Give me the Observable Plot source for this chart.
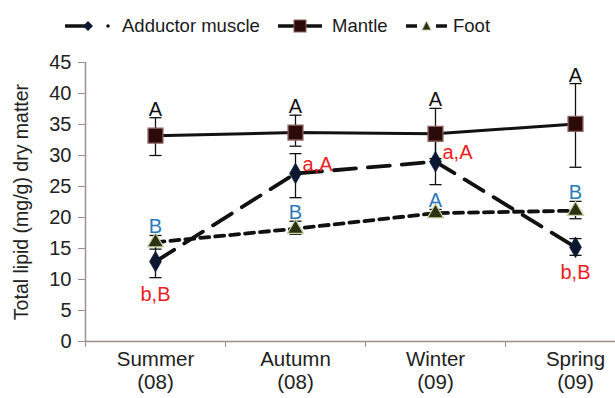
<!DOCTYPE html>
<html>
<head>
<meta charset="utf-8">
<script src="https://cdn.jsdelivr.net/npm/d3@7"></script>
<script src="https://cdn.jsdelivr.net/npm/@observablehq/plot@0.6"></script>
<style>
  html, body { margin: 0; padding: 0; background: #fff; }
  body { width: 615px; height: 398px; overflow: hidden; font-family: "Liberation Sans", Arial, sans-serif; }
  #legend { position: relative; height: 45px; font-size: 18.5px; color: #1a1a1a; }
  #legend .item { position: absolute; top: 15px; display: flex; align-items: center; gap: 0; }
  #legend svg { display: block; }
</style>
</head>
<body>
<div id="legend"></div>
<div id="chart"></div>
<script>
// ---- data ----
const seasons = ["Summer", "Autumn", "Winter", "Spring"];
const years = ["(08)", "(08)", "(09)", "(09)"];
const seriesNames = ["Adductor muscle", "Mantle", "Foot"];

const adductor = [12.9, 27.1, 29.0, 15.2];
const adductorLo = [10.3, 23.2, 25.3, 13.9];
const adductorHi = [15.5, 30.3, 32.7, 16.6];
const adductorLetters = ["b,B", "a,A", "a,A", "b,B"];

const mantle = [33.2, 33.7, 33.5, 35.1];
const mantleLo = [30.0, 31.5, 29.5, 28.1];
const mantleHi = [36.1, 36.5, 37.6, 41.6];
const mantleLetters = ["A", "A", "A", "A"];

const foot = [16.0, 18.2, 20.7, 21.1];
const footLo = [14.9, 17.3, 20.1, 19.8];
const footHi = [17.1, 19.4, 21.3, 22.6];
const footLetters = ["B", "B", "A", "B"];

const yTicks = [0, 5, 10, 15, 20, 25, 30, 35, 40, 45];

// ---- build tables ----
const mk = (vals, lo, hi, letters) => vals.map((v, i) => ({x: i + 0.5, v, lo: lo[i], hi: hi[i], letter: letters[i], i}));
const A = mk(adductor, adductorLo, adductorHi, adductorLetters);
const M = mk(mantle, mantleLo, mantleHi, mantleLetters);
const F = mk(foot, footLo, footHi, footLetters);

const capSymbol = {draw(ctx, size) { const w = Math.sqrt(size); ctx.moveTo(-w, 0); ctx.lineTo(w, 0); }};

const ink = "#111";
const axisCol = "#9e8f8f";
const red = "#ec1c24";
const blue = "#2a7ab9";
const font = "Liberation Sans, Arial, sans-serif";

function errMarks(data) {
  return [
    Plot.ruleX(data, {x: "x", y1: "lo", y2: "hi", stroke: ink, strokeWidth: 1.3}),
    Plot.dot(data, {x: "x", y: "lo", symbol: capSymbol, r: 3.4, stroke: ink, strokeWidth: 1.3}),
    Plot.dot(data, {x: "x", y: "hi", symbol: capSymbol, r: 3.4, stroke: ink, strokeWidth: 1.3})
  ];
}

const chart = Plot.plot({
  width: 615,
  height: 353,
  marginLeft: 85,
  marginRight: 0,
  marginTop: 17,
  marginBottom: 57,
  style: {fontFamily: font, background: "#fff", overflow: "visible"},
  x: {domain: [0, 530 / 140], axis: null},
  y: {domain: [0, 45], axis: null},
  marks: [
    // axes
    Plot.ruleX([0], {stroke: axisCol, strokeWidth: 1.5}),
    Plot.ruleY([0], {stroke: axisCol, strokeWidth: 1.5}),
    Plot.axisY({ticks: yTicks, tickSize: 7, stroke: axisCol, tickPadding: 7, fontSize: 20, fill: "#222", label: null}),
    Plot.axisY({ticks: [], tickSize: 0, fontSize: 19.5, fill: "#222",
      label: "Total lipid (mg/g) dry matter", labelAnchor: "center", labelArrow: "none", labelOffset: 71}),
    Plot.axisX({ticks: [0, 1, 2, 3], tickSize: 6, stroke: axisCol, tickFormat: () => "", label: null}),
    Plot.axisX({ticks: seasons.map((s, i) => i + 0.5), tickSize: 0, tickPadding: 8, fontSize: 20.5, fill: "#222",
      lineHeight: 1.12, tickFormat: (d) => seasons[Math.round(d - 0.5)] + "\n" + years[Math.round(d - 0.5)], label: null}),
    // lines
    Plot.line(F, {x: "x", y: "v", stroke: ink, strokeWidth: 3.8, strokeDasharray: "9,6"}),
    Plot.line(A, {x: "x", y: "v", stroke: ink, strokeWidth: 3.8, strokeDasharray: "22,12"}),
    Plot.line(M, {x: "x", y: "v", stroke: ink, strokeWidth: 3}),
    // error bars
    ...errMarks(M), ...errMarks(A), ...errMarks(F),
    // markers
    Plot.dot(M, {x: "x", y: "v", symbol: "square", r: 8.4, fill: "#2b0a0a", stroke: "#8e6060", strokeWidth: 1.3}),
    Plot.dot(A, {x: "x", y: "v", symbol: "diamond", r: 6.3, fill: "#0c1830", stroke: "#0c1830", strokeWidth: 0.6}),
    Plot.dot(F, {x: "x", y: "v", symbol: "triangle", r: 6, fill: "#2b3312", stroke: "#c9d3a8", strokeWidth: 1.2}),
    // letters
    Plot.text(M, {x: "x", y: "hi", text: "letter", lineAnchor: "bottom", dy: -2, fill: "#111", fontSize: 20}),
    Plot.text(F, {x: "x", y: "hi", text: "letter", lineAnchor: "bottom", dy: -2, fill: blue, fontSize: 20}),
    Plot.text(A.filter(d => d.i === 0 || d.i === 3), {x: "x", y: "lo", text: "letter", lineAnchor: "top", dy: 9, fill: red, fontSize: 20}),
    Plot.text(A.filter(d => d.i === 1 || d.i === 2), {x: "x", y: "v", text: "letter", textAnchor: "start", lineAnchor: "middle", dx: 7, dy: -9, fill: red, fontSize: 20})
  ]
});
document.getElementById("chart").appendChild(chart);

// ---- legend ----
const legend = document.getElementById("legend");
const legendDefs = [
  {name: seriesNames[0], left: 64, svg: `<svg width="58" height="16"><line x1="1" y1="8" x2="24" y2="8" stroke="#111" stroke-width="3.5"/><path d="M24,3 L29,8 L24,13 L19,8 Z" fill="#0c1830"/><circle cx="44" cy="8" r="1.8" fill="#111"/></svg>`},
  {name: seriesNames[1], left: 277, svg: `<svg width="55" height="16"><line x1="1" y1="8" x2="45" y2="8" stroke="#111" stroke-width="3.5"/><rect x="17" y="2" width="12" height="12" fill="#2b0a0a" stroke="#8e6060" stroke-width="1"/></svg>`},
  {name: seriesNames[2], left: 405, svg: `<svg width="48" height="16"><line x1="1" y1="8" x2="12" y2="8" stroke="#111" stroke-width="3.5"/><line x1="31" y1="8" x2="42" y2="8" stroke="#111" stroke-width="3.5"/><path d="M21.5,3 L26,12 L17,12 Z" fill="#2b3312" stroke="#c9d3a8" stroke-width="0.8"/></svg>`}
];
for (const d of legendDefs) {
  const el = document.createElement("div");
  el.className = "item";
  el.style.left = d.left + "px";
  el.innerHTML = d.svg + `<span>${d.name}</span>`;
  legend.appendChild(el);
}
</script>
</body>
</html>
